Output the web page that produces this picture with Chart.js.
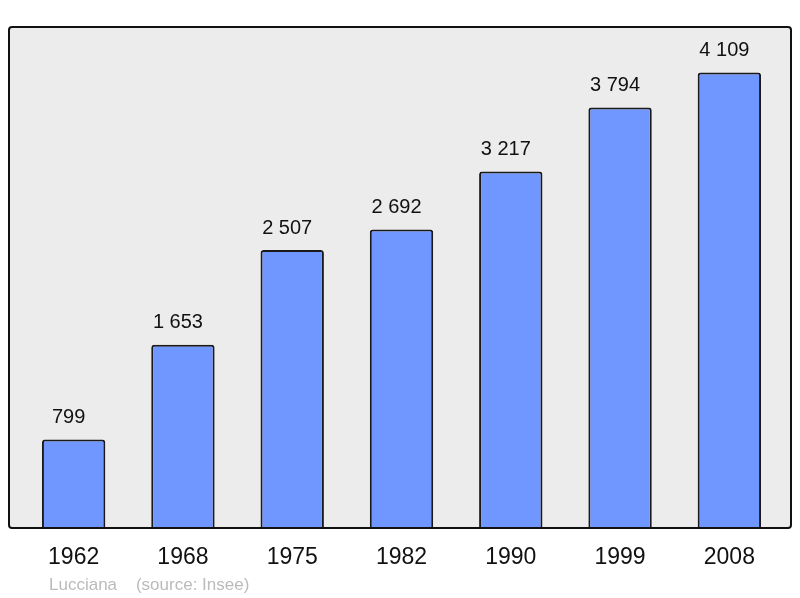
<!DOCTYPE html>
<html>
<head>
<meta charset="utf-8">
<script src="https://cdn.jsdelivr.net/npm/chart.js@4"></script>
<style>
html,body{margin:0;padding:0;background:#fff;}
#wrap{width:800px;height:598px;}
</style>
</head>
<body>
<div id="wrap"><canvas id="c" width="800" height="598"></canvas></div>
<script>
const years = ["1962", "1968", "1975", "1982", "1990", "1999", "2008"];
const population = [799, 1653, 2507, 2692, 3217, 3794, 4109];
const town = "Lucciana";
const sourceNote = "(source: Insee)";

function fmt(v){ return String(v).replace(/\B(?=(\d{3})+(?!\d))/g, " "); }

const framePlugin = {
  id: 'frame',
  beforeDraw(chart){
    const ctx = chart.ctx;
    ctx.save();
    ctx.fillStyle = '#ececec';
    ctx.beginPath();
    ctx.roundRect(9, 27, 782, 501, 3);
    ctx.fill();
    ctx.restore();
  },
  afterDatasetsDraw(chart){
    const ctx = chart.ctx;
    ctx.save();
    ctx.strokeStyle = '#111';
    ctx.lineWidth = 2;
    ctx.beginPath();
    ctx.roundRect(9, 27, 782, 501, 3);
    ctx.stroke();
    // value labels
    const meta = chart.getDatasetMeta(0);
    ctx.fillStyle = '#111';
    ctx.font = '20px "Liberation Sans", Arial, sans-serif';
    ctx.textAlign = 'center';
    ctx.textBaseline = 'middle';
    meta.data.forEach((bar, i) => {
      ctx.fillText(fmt(population[i]), bar.x - 5, bar.y - 22);
    });
    // footer
    ctx.fillStyle = '#bbbbbb';
    ctx.font = '17px "Liberation Sans", Arial, sans-serif';
    ctx.textAlign = 'left';
    ctx.fillText(town + "    " + sourceNote, 49, 585);
    ctx.restore();
  }
};

new Chart(document.getElementById('c'), {
  type: 'bar',
  data: {
    labels: years,
    datasets: [{
      data: population,
      backgroundColor: '#7096ff',
      borderColor: '#1a1a1a',
      borderWidth: 2,
      borderRadius: 3,
      borderSkipped: 'bottom',
      barPercentage: 0.58,
      categoryPercentage: 1.0
    }]
  },
  options: {
    responsive: false,
    animation: false,
    devicePixelRatio: 1,
    layout: { padding: { left: 19, right: 16, top: 27, bottom: 0 } },
    plugins: { legend: { display: false }, tooltip: { enabled: false } },
    scales: {
      y: { display: false, min: 0, max: 4520 },
      x: {
        grid: { display: false },
        border: { display: false },
        ticks: {
          color: '#111',
          font: { family: '"Liberation Sans", Arial, sans-serif', size: 23 },
          padding: 8,
          maxRotation: 0
        },
        afterFit(scale){ scale.height = 70; }
      }
    }
  },
  plugins: [framePlugin]
});
</script>
</body>
</html>
